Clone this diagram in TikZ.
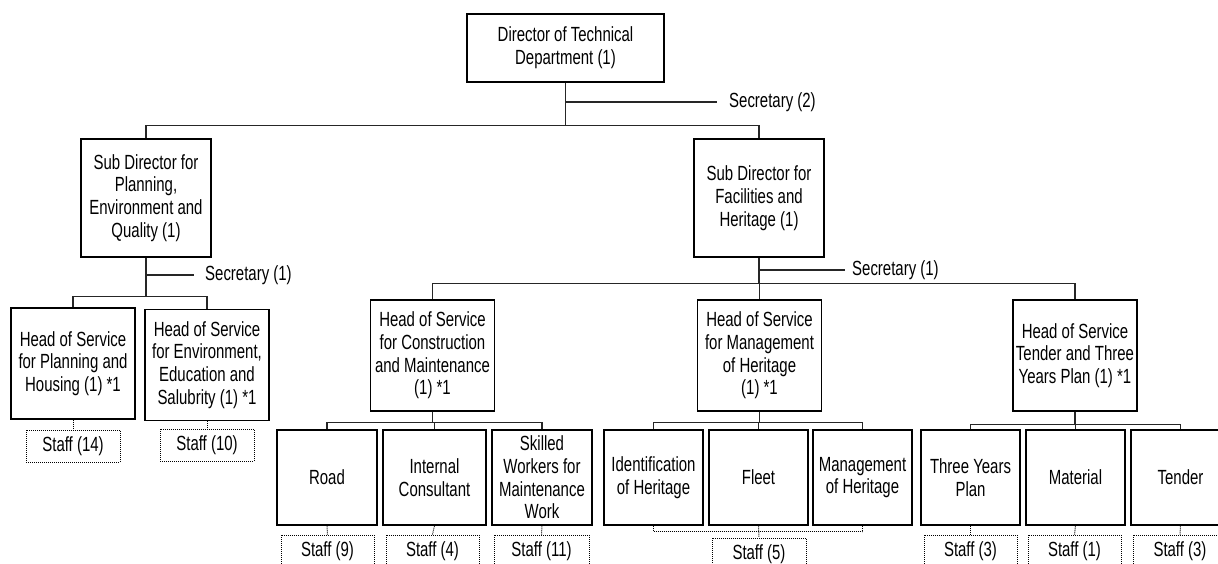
\documentclass[tikz,border=0pt]{standalone}
\usepackage{fontspec}
\setmainfont{Liberation Sans}[FakeStretch=0.73]
\usetikzlibrary{calc}
\tikzset{
  txt/.style={font=\fontsize{20.5}{22.7}\selectfont, align=center, inner sep=1pt, text=black},
  unitbase/.style={txt, draw=black, line width=1.4pt},
  topbox/.style={unitbase, minimum width=197, minimum height=68},
  subbox/.style={unitbase, minimum width=130, minimum height=118},
  headbox/.style={unitbase, minimum width=124, minimum height=111},
  sectbox/.style={unitbase, minimum width=100, minimum height=95},
  staffbox/.style={txt, draw=black, line width=1pt, dash pattern=on 1pt off 1pt, minimum width=94, minimum height=32},
  seclabel/.style={txt, anchor=west, inner sep=0pt},
  link/.style={draw=black!85, line width=1.25pt},
  dotlink/.style={draw=black, line width=1pt, dash pattern=on 1pt off 1pt}
}
\begin{document}
\begin{tikzpicture}[x=1pt, y=-1pt]
\useasboundingbox (0,0) rectangle (1218,564);
\clip (0,0) rectangle (1218,564);
\fill[white] (0,0) rectangle (1218,564);

% director and sub directors
\node[topbox] (dir) at (565.5,48) {Director of Technical\\Department (1)};
\node[subbox] (sdpe) at (146,198) {Sub Director for\\Planning,\\Environment and\\Quality (1)};
\node[subbox] (sdfh) at (759,198) {Sub Director for\\Facilities and\\Heritage (1)};

% heads of service
\node[headbox] (hph) at (73,363.5) {Head of Service\\for Planning and\\Housing (1) *1};
\node[headbox] (hees) at (207,365) {Head of Service\\for Environment,\\Education and\\Salubrity (1) *1};
\node[headbox] (hcm) at (432.5,355.5) {Head of Service\\for Construction\\and Maintenance\\(1) *1};
\node[headbox] (hmh) at (759.5,355.5) {Head of Service\\for Management\\of Heritage\\(1) *1};
\node[headbox] (htt) at (1075,355.5) {Head of Service\\Tender and Three\\Years Plan (1) *1};

% sections
\node[sectbox] (road) at (327,477.5) {Road};
\node[sectbox, minimum width=103] (internal) at (434.5,477.5) {Internal\\Consultant};
\node[sectbox] (skilled) at (542,477.5) {Skilled\\Workers for\\Maintenance\\Work};
\node[sectbox, minimum width=99] (ident) at (653.5,477.5) {Identification\\of Heritage};
\node[sectbox, minimum width=99] (fleet) at (758.5,477.5) {Fleet};
\node[sectbox, minimum width=99] (mgmt) at (862.5,477.5) {Management\\of Heritage};
\node[sectbox, minimum width=99] (three) at (970.5,477.5) {Three Years\\Plan};
\node[sectbox, minimum width=99] (material) at (1075.5,477.5) {Material};
\node[sectbox, minimum width=99] (tender) at (1180.5,477.5) {Tender};

% staff
\node[staffbox] (s14) at (73,446) {Staff (14)};
\node[staffbox] (s10) at (207,445) {Staff (10)};
\node[staffbox, minimum width=93] (s9) at (327.5,551) {Staff (9)};
\node[staffbox, minimum width=93] (s4) at (432.5,551) {Staff (4)};
\node[staffbox, minimum width=95] (s11) at (541.5,551) {Staff (11)};
\node[staffbox] (s5) at (759,554) {Staff (5)};
\node[staffbox, minimum width=93] (s3a) at (970.5,551) {Staff (3)};
\node[staffbox, minimum width=93] (s1) at (1074.5,551) {Staff (1)};
\node[staffbox] (s3b) at (1180,551) {Staff (3)};

% secretaries
\node[seclabel] (sec2) at (729,102) {Secretary (2)};
\node[seclabel] (sec1a) at (205,275) {Secretary (1)};
\node[seclabel] (sec1b) at (852,270) {Secretary (1)};

% director level
\draw[link] (dir.south) -- ++(0,43) coordinate (j0);
\draw[link] (sdpe.north) -- (sdpe.north |- j0) -- (sdfh.north |- j0) -- (sdfh.north);
\draw[link] (dir.south |- sec2.west) -- ([xshift=-12]sec2.west);

% planning, environment and quality
\draw[link] (sdpe.south) -- ++(0,39) coordinate (j1);
\draw[link] (hph.north) -- (hph.north |- j1) -- (hees.north |- j1) -- (hees.north);
\draw[link] (sdpe.south |- sec1a.west) -- ([xshift=-11]sec1a.west);

% facilities and heritage
\draw[link] (sdfh.south) -- ++(0,26) coordinate (j2);
\draw[link] (hcm.north) -- (hcm.north |- j2) -- (htt.north |- j2) -- (htt.north);
\draw[link] (hmh.north) -- (hmh.north |- j2);
\draw[link] (sdfh.south |- sec1b.west) -- ([xshift=-7]sec1b.west);

% construction and maintenance
\draw[link] (hcm.south) -- ++(0,11) coordinate (j3);
\draw[link] (road.north) -- (road.north |- j3) -- (skilled.north |- j3) -- (skilled.north);
\draw[link] (internal.north) -- (internal.north |- j3);

% management of heritage
\draw[link] (hmh.south) -- ++(0,11) coordinate (j4);
\draw[link] (ident.north) -- (ident.north |- j4) -- (mgmt.north |- j4) -- (mgmt.north);
\draw[link] (fleet.north) -- (fleet.north |- j4);

% tender and three years plan
\draw[link] (htt.south) -- ++(0,13) coordinate (j5);
\draw[link] (three.north) -- (three.north |- j5) -- (tender.north |- j5) -- (tender.north);
\draw[link] (material.north) -- (material.north |- j5);

% staff links
\draw[dotlink] (hph.south) -- (s14.north);
\draw[dotlink] (hees.south) -- (s10.north);
\draw[dotlink] (road.south) -- (s9.north);
\draw[dotlink] (internal.south) -- (s4.north);
\draw[dotlink] (skilled.south) -- (s11.north);
\draw[dotlink] (ident.south) -- ++(0,6) coordinate (k) -- (mgmt.south |- k) -- (mgmt.south);
\draw[dotlink] (fleet.south) -- (s5.north);
\draw[dotlink] (three.south) -- (s3a.north);
\draw[dotlink] (material.south) -- (s1.north);
\draw[dotlink] (tender.south) -- (s3b.north);
\end{tikzpicture}
\end{document}
